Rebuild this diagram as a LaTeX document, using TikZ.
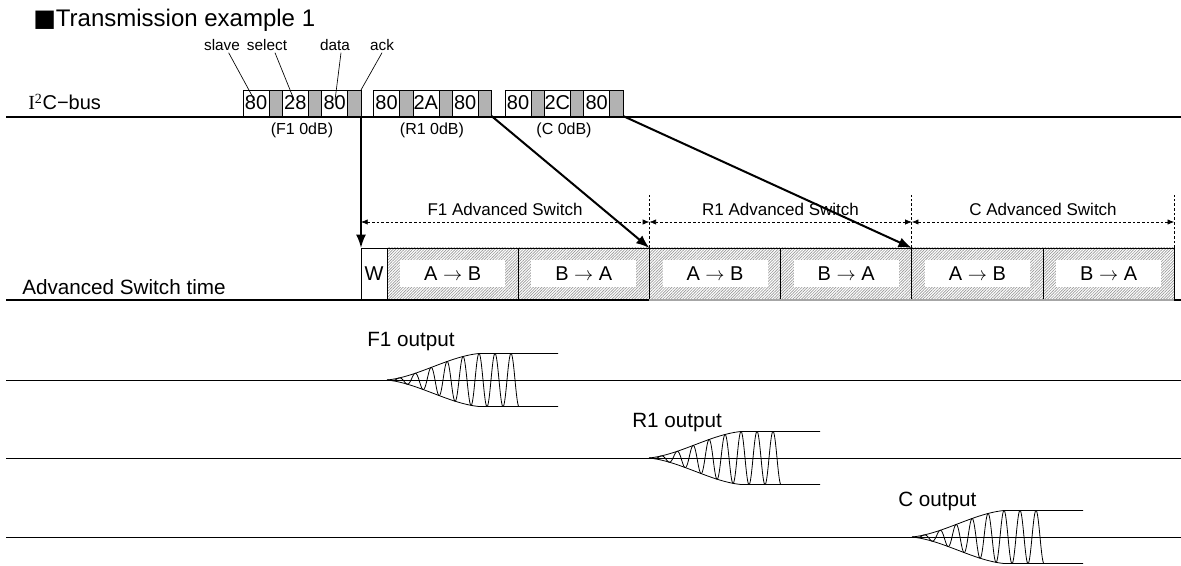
\documentclass[tikz,border=0pt]{standalone}
\usepackage{fontspec}
\setmainfont{Liberation Sans}
\newfontfamily\serifI{Liberation Serif}
\newfontfamily\symfont{DejaVu Sans}
\usetikzlibrary{positioning, arrows.meta, patterns.meta}

\newcommand{\drawwave}[2]{%
    \draw[sigline] (6,#2) -- (1181,#2);
    \draw[sigline] plot[domain=0:92, samples=60] ({#1+\x},{#2-26.5*envf(\x/92)}) -- ({#1+171},{#2-26.5});
    \draw[sigline] plot[domain=0:92, samples=60] ({#1+\x},{#2+26.5*envf(\x/92)}) -- ({#1+171},{#2+26.5});
    \draw[sigline] plot[domain=0:132, samples=400] ({#1+\x},{#2+26.5*envf(\x/92)*sin(22.5*\x)});
}

\begin{document}
\begin{tikzpicture}[x=0.75pt, y=-0.75pt,
    declare function={envf(\s)=(\s<1)*(0.35*\s+0.65*\s*\s*(3-2*\s))+(\s>=1);},
    pktbox/.style={draw, fill=white, line width=0.5pt, inner sep=0pt, outer sep=0pt, minimum width=19.5pt, minimum height=19.5pt, font=\fontsize{15}{15}\selectfont},
    ackbox/.style={draw, fill=gray!60, line width=0.5pt, inner sep=0pt, outer sep=0pt, minimum width=10pt, minimum height=19.5pt},
    fieldlbl/.style={font=\fontsize{11.5}{12}\selectfont, anchor=base, inner sep=1pt},
    leader/.style={line width=0.5pt, shorten >=2.25pt},
    pktlbl/.style={font=\fontsize{12}{12}\selectfont},
    wbox/.style={draw, fill=white, line width=0.5pt, inner sep=0pt, outer sep=0pt, minimum width=19.5pt, minimum height=39pt, font=\fontsize{15}{15}\selectfont},
    segbox/.style={draw, line width=0.5pt, pattern={Lines[angle=45,distance=1.5pt,line width=0.5pt]}, pattern color=gray!80, inner sep=0pt, outer sep=0pt, minimum width=98.4pt, minimum height=39pt},
    segtxt/.style={fill=white, inner sep=0pt, minimum width=78.75pt, minimum height=20.25pt, font=\fontsize{15}{15}\selectfont},
    bigarrow/.style={line width=1.5pt, -{Latex[length=10pt,width=7.5pt]}},
    dimline/.style={line width=0.5pt, dash pattern=on 2pt off 1.5pt, {Latex[length=5pt,width=4pt]}-{Latex[length=5pt,width=4pt]}},
    extline/.style={line width=0.5pt, dash pattern=on 2pt off 1.5pt},
    dimlbl/.style={font=\fontsize{12.75}{13}\selectfont},
    sigline/.style={line width=0.6pt},
    bigtxt/.style={font=\fontsize{15.5}{16}\selectfont, anchor=base west, inner sep=0pt}
]
    \useasboundingbox (0,0) rectangle (1181,566);

    \node[anchor=base west, inner sep=0pt, font=\fontsize{18}{20}\selectfont] (title) at (33,27) {{\symfont ■}Transmission example 1};

    \node[anchor=base west, inner sep=0pt, font=\fontsize{15}{16}\selectfont] (bus) at (28,110) {{\serifI I\textsuperscript{2}}C−bus};
    \coordinate (busL) at (6,117);
    \coordinate (busR) at (1181,117);
    \draw[line width=1.5pt] (busL) -- (busR);

    \node[pktbox] (f1) at (256,103) {80};
    \node[ackbox, right=0pt of f1] (f2) {};
    \node[pktbox, right=0pt of f2] (f3) {28};
    \node[ackbox, right=0pt of f3] (f4) {};
    \node[pktbox, right=0pt of f4] (f5) {80};
    \node[ackbox, right=0pt of f5] (f6) {};

    \node[pktbox] (r1) at (386.5,103) {80};
    \node[ackbox, right=0pt of r1] (r2) {};
    \node[pktbox, right=0pt of r2] (r3) {2A};
    \node[ackbox, right=0pt of r3] (r4) {};
    \node[pktbox, right=0pt of r4] (r5) {80};
    \node[ackbox, right=0pt of r5] (r6) {};

    \node[pktbox] (c1) at (518,103) {80};
    \node[ackbox, right=0pt of c1] (c2) {};
    \node[pktbox, right=0pt of c2] (c3) {2C};
    \node[ackbox, right=0pt of c3] (c4) {};
    \node[pktbox, right=0pt of c4] (c5) {80};
    \node[ackbox, right=0pt of c5] (c6) {};

    \node[fieldlbl] (lslave)  at (222,51) {slave};
    \node[fieldlbl] (lselect) at (267,51) {select};
    \node[fieldlbl] (ldata)   at (335,51) {data};
    \node[fieldlbl] (lack)    at (382,51) {ack};

    \draw[leader] ([xshift=5pt]lslave.south) -- (f1.center);
    \draw[leader] ([xshift=6pt]lselect.south) -- (f3.center);
    \draw[leader] ([xshift=4.5pt]ldata.south) -- (f5.center);
    \draw[line width=0.5pt] (lack.south) -- (f6.north east);

    \node[pktlbl] (nf1) at (302,130) {(F1 0dB)};
    \node[pktlbl] (nr1) at (432,130) {(R1 0dB)};
    \node[pktlbl] (nc1) at (564,130) {(C 0dB)};

    \node[wbox] (wbox) at (374,274) {W};
    \node[segbox, right=0pt of wbox] (fab) {};
    \node[segbox, right=0pt of fab] (fba) {};
    \node[segbox, right=0pt of fba] (rab) {};
    \node[segbox, right=0pt of rab] (rba) {};
    \node[segbox, right=0pt of rba] (cab) {};
    \node[segbox, right=0pt of cab] (cba) {};
    \node[segtxt] (tfab) at (fab) {A $\rightarrow$ B};
    \node[segtxt] (tfba) at (fba) {B $\rightarrow$ A};
    \node[segtxt] (trab) at (rab) {A $\rightarrow$ B};
    \node[segtxt] (trba) at (rba) {B $\rightarrow$ A};
    \node[segtxt] (tcab) at (cab) {A $\rightarrow$ B};
    \node[segtxt] (tcba) at (cba) {B $\rightarrow$ A};

    \draw[line width=1.5pt] (6,300) -- (fba.south east);
    \draw[line width=1.5pt, gray!70] (rab.south west) -- (cba.south east);
    \draw[line width=1.5pt] (cba.south east) -- (1181,300);
    \node[bigtxt] (lswitch) at (22,295) {Advanced Switch time};

    \coordinate (m0) at (361,222);
    \coordinate (m1) at (fba.north east |- m0);
    \coordinate (m2) at (rba.north east |- m0);
    \coordinate (m3) at (cba.north east |- m0);
    \draw[extline] (fba.north east) -- ++(0,-53);
    \draw[extline] (rba.north east) -- ++(0,-53);
    \draw[extline] (cba.north east) -- ++(0,-53);
    \draw[dimline] (m0) -- (m1);
    \draw[dimline] (m1) -- (m2);
    \draw[dimline] (m2) -- (m3);
    \node[dimlbl] (df1) at (505,209)   {F1 Advanced Switch};
    \node[dimlbl] (dr1) at (780.5,209) {R1 Advanced Switch};
    \node[dimlbl] (dc1) at (1043,209)  {C Advanced Switch};

    \draw[bigarrow] (f6.south east) -- (wbox.north west);
    \draw[bigarrow] (r6.south east) -- (rab.north west);
    \draw[bigarrow] (c6.south east) -- (cab.north west);

    \node[bigtxt] (of1) at (367,347) {F1 output};
    \node[bigtxt] (or1) at (632,427) {R1 output};
    \node[bigtxt] (oc1) at (898,506) {C output};
    \drawwave{387}{380}
    \drawwave{649}{458}
    \drawwave{912}{537}
\end{tikzpicture}
\end{document}
